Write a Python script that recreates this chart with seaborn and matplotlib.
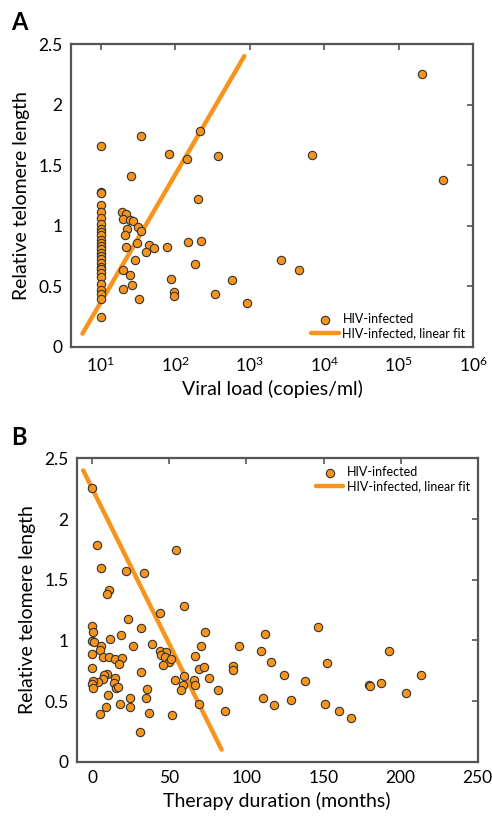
import matplotlib

matplotlib.use("Agg")
import matplotlib.pyplot as plt
import numpy as np
import pandas as pd
import seaborn as sns
from matplotlib.ticker import FixedLocator, FuncFormatter, NullLocator

# panel A: viral load vs telomere length
load_at_10 = [1.655, 1.279, 1.271, 1.175, 1.112, 1.063, 1.011, 0.975, 0.951, 0.923,
              0.882, 0.860, 0.833, 0.805, 0.778, 0.751, 0.723, 0.696, 0.663, 0.641,
              0.614, 0.581, 0.518, 0.471, 0.436, 0.400, 0.244]
viral_load = [35, 25.4, 82.6, 144.5, 216, 374, 203, 19.6, 22.2, 19.8,
              24.6, 27, 32.2, 35.3, 22.9, 21.3, 30.9, 44, 52.4, 40.5,
              21.7, 78.4, 147.5, 223, 29, 20.2, 24.6, 185, 88.7, 26.4,
              19.8, 33.2, 96.4, 96.4, 344, 583, 912, 2625, 4625, 6850,
              2.08e5, 3.99e5]
telomere_a = [1.742, 1.414, 1.592, 1.551, 1.786, 1.573, 1.222, 1.112, 1.101, 1.060,
              1.049, 1.038, 0.992, 0.956, 0.970, 0.923, 0.860, 0.841, 0.814, 0.784,
              0.822, 0.822, 0.866, 0.871, 0.715, 0.633, 0.595, 0.682, 0.564, 0.512,
              0.477, 0.395, 0.455, 0.422, 0.441, 0.553, 0.362, 0.715, 0.633, 1.584,
              2.252, 1.381]
fit_load = [5.7, 850]
fit_len_a = [0.11, 2.40]

# panel B: therapy duration vs telomere length
therapy_months = [0, 3.4, 5.4, 10.8, 9.7, 21.7, 33.3, 54.2, 59.6, 43.9,
                  23.2, 0, 0.4, 31.8, 18.5, 11.4, 0, 1, 26.5, 38.9,
                  5.8, 5, 6.9, 11.2, 14.6, 19.4, 17.2, 0, 0.2, 44.3,
                  48, 44.7, 47.1, 49.9, 46, 51, 66.7, 70.3, 73.3, 95,
                  31.4, 9.9, 7.5, 7.1, 3.7, 0.6, 0, 0.6, 15.1, 14.2,
                  15.7, 17, 10.5, 53.8, 59.4, 59.1, 57.6, 66.2, 66.7, 69,
                  72.7, 75.7, 91, 91.4, 81.9, 24.5, 35.5, 35, 8.8, 18.3,
                  24.3, 5.2, 36.6, 51.8, 69.5, 86.2, 31.2,
                  111.8, 109.4, 115.9, 124.2, 110.5, 118, 128.8, 138.2, 146.6, 152.1,
                  151.1, 160.1, 168, 179.6, 180.3, 187.6, 192.3, 203.6, 213.3]
telomere_b = [2.255, 1.786, 1.595, 1.416, 1.384, 1.573, 1.556, 1.745, 1.285, 1.227,
              1.173, 1.115, 1.066, 1.104, 1.044, 1.014, 0.992, 0.986, 0.953, 0.973,
              0.951, 0.923, 0.866, 0.863, 0.847, 0.855, 0.803, 0.885, 0.773, 0.912,
              0.904, 0.882, 0.860, 0.825, 0.795, 0.847, 0.874, 0.953, 1.066, 0.953,
              0.742, 0.723, 0.712, 0.679, 0.660, 0.668, 0.638, 0.608, 0.693, 0.649,
              0.608, 0.614, 0.553, 0.674, 0.704, 0.630, 0.595, 0.677, 0.636, 0.767,
              0.781, 0.693, 0.786, 0.753, 0.595, 0.526, 0.597, 0.523, 0.455, 0.474,
              0.447, 0.395, 0.405, 0.384, 0.474, 0.414, 0.244,
              1.055, 0.912, 0.822, 0.715, 0.526, 0.466, 0.512, 0.663, 1.112, 0.814,
              0.474, 0.422, 0.364, 0.636, 0.622, 0.652, 0.912, 0.564, 0.715]
fit_months = [-5.8, 83.9]
fit_len_b = [2.40, 0.10]

y_ticks = [0, 0.5, 1, 1.5, 2, 2.5]

sns.set_theme(style="white")
plt.rcParams["font.family"] = ["Lato", "DejaVu Sans"]
plt.rcParams["text.color"] = "black"
plt.rcParams["axes.labelcolor"] = "black"

orange = "#F7941D"
spine_col = "#555555"

df_a = pd.DataFrame({
    "load": [10] * len(load_at_10) + viral_load,
    "length": load_at_10 + telomere_a,
})
df_fit_a = pd.DataFrame({"load": fit_load, "length": fit_len_a})
df_b = pd.DataFrame({"months": therapy_months, "length": telomere_b})
df_fit_b = pd.DataFrame({"months": fit_months, "length": fit_len_b})

fig = plt.figure(figsize=(4.92, 8.18), dpi=100)
ax_a = fig.add_axes([0.1443, 0.5758, 0.8171, 0.3704])
ax_b = fig.add_axes([0.1560, 0.0688, 0.8150, 0.3709])


def style_axes(ax):
    for sp in ax.spines.values():
        sp.set_color(spine_col)
        sp.set_linewidth(1.6)
    ax.tick_params(direction="in", top=True, right=True, length=4, width=1.2,
                   color=spine_col, labelsize=12.5, labelcolor="black", pad=6)
    ax.set_ylim(0, 2.5)
    ax.yaxis.set_major_locator(FixedLocator(y_ticks))
    ax.yaxis.set_major_formatter(FuncFormatter(lambda v, p: f"{v:g}"))
    ax.set_ylabel("Relative telomere length", fontsize=14, labelpad=6)


# A
sns.lineplot(data=df_fit_a, x="load", y="length", ax=ax_a, color=orange, lw=3.2,
             label="HIV-infected, linear fit", zorder=3)
sns.scatterplot(data=df_a, x="load", y="length", ax=ax_a, color=orange, s=36,
                edgecolor="#333333", linewidth=0.8, label="HIV-infected", zorder=4)
ax_a.set_xscale("log")
ax_a.set_xlim(4, 1e6)
ax_a.xaxis.set_major_locator(FixedLocator([1e1, 1e2, 1e3, 1e4, 1e5, 1e6]))
ax_a.xaxis.set_minor_locator(NullLocator())
style_axes(ax_a)
ax_a.set_xlabel("Viral load (copies/ml)", fontsize=14, labelpad=4)
h, l = ax_a.get_legend_handles_labels()
ax_a.legend(h[::-1], l[::-1], loc="lower right", frameon=False, fontsize=9,
            handlelength=2.2, handletextpad=0.3, borderaxespad=0.2, labelspacing=0.2)

# B
sns.lineplot(data=df_fit_b, x="months", y="length", ax=ax_b, color=orange, lw=3.2,
             label="HIV-infected, linear fit", zorder=3)
sns.scatterplot(data=df_b, x="months", y="length", ax=ax_b, color=orange, s=36,
                edgecolor="#333333", linewidth=0.8, label="HIV-infected", zorder=4)
ax_b.set_xlim(-10, 250)
ax_b.xaxis.set_major_locator(FixedLocator([0, 50, 100, 150, 200, 250]))
style_axes(ax_b)
ax_b.set_xlabel("Therapy duration (months)", fontsize=14, labelpad=4)
h, l = ax_b.get_legend_handles_labels()
ax_b.legend(h[::-1], l[::-1], loc="upper right", frameon=False, fontsize=9,
            handlelength=2.2, handletextpad=0.3, borderaxespad=0.2, labelspacing=0.2)

fig.text(0.022, 0.973, "A", fontsize=17, fontweight="bold", va="center")
fig.text(0.022, 0.465, "B", fontsize=17, fontweight="bold", va="center")

fig.savefig("out.png", dpi=100)
